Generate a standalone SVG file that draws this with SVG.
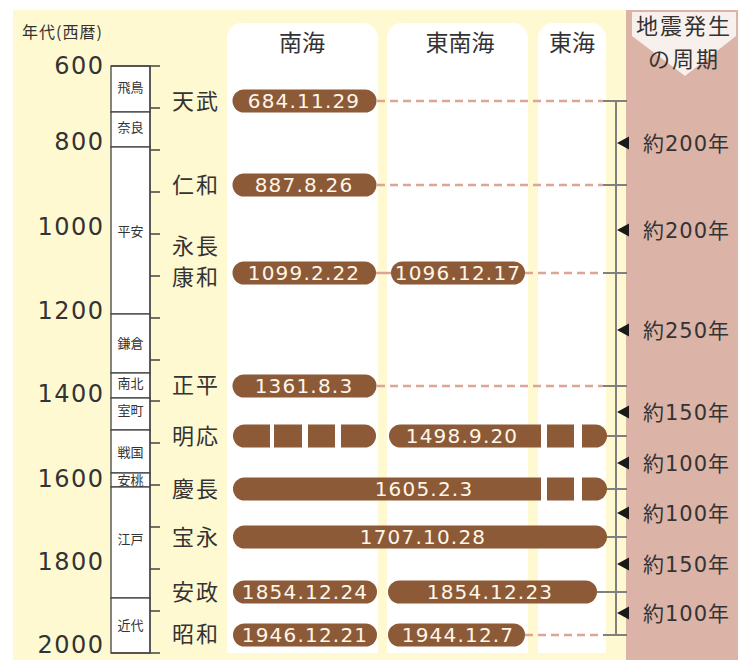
<svg xmlns="http://www.w3.org/2000/svg" width="738" height="660" viewBox="0 0 738 660">
<style>
.cjk{font-family:"Noto Sans CJK JP",sans-serif;fill:#333}
.num{font-family:"DejaVu Sans","Noto Sans CJK JP",sans-serif;fill:#333}
.year{font-size:24px;text-anchor:end;letter-spacing:1.5px}
.era{font-size:22px;letter-spacing:2px}
.per{font-size:13px;text-anchor:middle}
.col{font-size:23px;text-anchor:middle}
.pill{fill:#8C5A37}
.date{font-family:"DejaVu Sans","Noto Sans CJK JP",sans-serif;font-size:20px;fill:#FFF6EA;text-anchor:middle;letter-spacing:1.2px}
.cyc{font-size:21px;letter-spacing:1px}
.box{fill:#fff;stroke:#444;stroke-width:1.3}
.ax{stroke:#444;stroke-width:1.3;fill:none}
.dash{stroke:#DDA594;stroke-width:2.5;stroke-dasharray:8 5;fill:none}
.link{stroke:#DDA594;stroke-width:2.5;fill:none}
.tick{stroke:#808080;stroke-width:2;fill:none}
.colbg{fill:#fff}
.arr{fill:#1a1a1a}
</style>
<rect x="0" y="0" width="738" height="660" fill="#fff"/>
<rect x="13" y="10" width="613" height="650" fill="#FFF9D2"/>
<rect x="626" y="10" width="112" height="650" fill="#DBB3A7"/>
<polygon points="632,12 736,12 736,36 685,76 632,36" fill="#fff" opacity="0.8"/>

<!-- columns -->
<g id="col-nankai"><rect class="colbg" x="227" y="23" width="151" height="650" rx="15"/><text class="cjk col" x="302" y="51">南海</text></g>
<g id="col-tonankai"><rect class="colbg" x="387" y="23" width="141" height="650" rx="15"/><text class="cjk col" x="460" y="51">東南海</text></g>
<g id="col-tokai"><rect class="colbg" x="538" y="23" width="68" height="650" rx="15"/><text class="cjk col" x="572" y="51">東海</text></g>
<rect x="13" y="653" width="613" height="7" fill="#FFF9D2"/>

<text class="cjk" x="22" y="38" font-size="16" letter-spacing="1">年代(西暦)</text>
<g id="header-cycle">
<text class="cjk" x="684" y="34" font-size="22" text-anchor="middle" letter-spacing="2">地震発生</text>
<text class="cjk" x="684" y="67" font-size="22" text-anchor="middle" letter-spacing="2">の周期</text>
</g>

<!-- left timeline -->
<g id="years">
<text class="num year" x="104.5" y="74">600</text>
<text class="num year" x="104.5" y="150">800</text>
<text class="num year" x="104.5" y="235">1000</text>
<text class="num year" x="104.5" y="319">1200</text>
<text class="num year" x="104.5" y="402">1400</text>
<text class="num year" x="104.5" y="487">1600</text>
<text class="num year" x="104.5" y="570">1800</text>
<text class="num year" x="104.5" y="653">2000</text>
</g>
<g id="periods">
<g id="p-asuka"><rect class="box" x="111" y="66" width="39" height="46"/><text class="cjk per" x="130.5" y="92">飛鳥</text></g>
<g id="p-nara"><rect class="box" x="111" y="112" width="39" height="35"/><text class="cjk per" x="130.5" y="132">奈良</text></g>
<g id="p-heian"><rect class="box" x="111" y="147" width="39" height="167"/><text class="cjk per" x="130.5" y="236">平安</text></g>
<g id="p-kamakura"><rect class="box" x="111" y="314" width="39" height="59"/><text class="cjk per" x="130.5" y="348">鎌倉</text></g>
<g id="p-nanboku"><rect class="box" x="111" y="373" width="39" height="25"/><text class="cjk per" x="130.5" y="388">南北</text></g>
<g id="p-muromachi"><rect class="box" x="111" y="398" width="39" height="32"/><text class="cjk per" x="130.5" y="415">室町</text></g>
<g id="p-sengoku"><rect class="box" x="111" y="430" width="39" height="43"/><text class="cjk per" x="130.5" y="457">戦国</text></g>
<g id="p-azuchi"><rect class="box" x="111" y="473" width="39" height="14"/><text class="cjk per" x="130.5" y="484.5" font-size="11">安桃</text></g>
<g id="p-edo"><rect class="box" x="111" y="487" width="39" height="111"/><text class="cjk per" x="130.5" y="544">江戸</text></g>
<g id="p-kindai"><rect class="box" x="111" y="598" width="39" height="55"/><text class="cjk per" x="130.5" y="630">近代</text></g>
</g>
<g id="left-axis">
<path class="ax" d="M111,66H160M111,653H160M150,66V653M150,108H160M150,150H160M150,192H160M150,234H160M150,276H160M150,318H160M150,360H160M150,401H160M150,443H160M150,485H160M150,527H160M150,569H160M150,611H160"/>
</g>

<!-- era names -->
<g id="eras">
<text class="cjk era" x="172" y="109">天武</text>
<text class="cjk era" x="172" y="193">仁和</text>
<text class="cjk era" x="172" y="254" font-size="21">永長</text>
<text class="cjk era" x="172" y="285" font-size="21">康和</text>
<text class="cjk era" x="172" y="393">正平</text>
<text class="cjk era" x="172" y="444">明応</text>
<text class="cjk era" x="172" y="497">慶長</text>
<text class="cjk era" x="172" y="545">宝永</text>
<text class="cjk era" x="172" y="600">安政</text>
<text class="cjk era" x="172" y="642">昭和</text>
</g>

<!-- connectors -->
<g id="connectors">
<path class="dash" d="M377,101H603M377,185H603M525,273H603M377,386H603M525,635H603"/>
<path class="link" d="M375,273H392"/>
<path class="tick" d="M603,101H627M603,185H627M603,273H627M603,386H627M606,436H627M606,489H627M606,537H627M597,592H627M603,635H627"/>
<path class="tick" d="M616,101V636" stroke-width="1.5"/>
</g>

<!-- events -->
<g id="ev-684"><rect class="pill" x="232.5" y="89.5" width="144" height="23" rx="11.5"/><text class="date" x="304" y="108.3">684.11.29</text></g>
<g id="ev-887"><rect class="pill" x="232.5" y="173.5" width="144" height="23" rx="11.5"/><text class="date" x="304" y="192.3">887.8.26</text></g>
<g id="ev-1099"><rect class="pill" x="232.5" y="261.5" width="143.5" height="23" rx="11.5"/><text class="date" x="304" y="280.3">1099.2.22</text></g>
<g id="ev-1096"><rect class="pill" x="391" y="261.5" width="134" height="23" rx="11.5"/><text class="date" x="458" y="280.3">1096.12.17</text></g>
<g id="ev-1361"><rect class="pill" x="232.5" y="374.5" width="144" height="23" rx="11.5"/><text class="date" x="304" y="393.3">1361.8.3</text></g>
<g id="ev-1498">
<path class="pill" d="M244.5,424.5H270V447.5H244.5A11.5,11.5 0 0 1 244.5,424.5Z"/>
<rect class="pill" x="274" y="424.5" width="28" height="23"/>
<rect class="pill" x="308" y="424.5" width="27" height="23"/>
<path class="pill" d="M341,424.5H364.5A11.5,11.5 0 0 1 364.5,447.5H341Z"/>
<path class="pill" d="M400.5,424.5H541V447.5H400.5A11.5,11.5 0 0 1 400.5,424.5Z"/>
<rect class="pill" x="547" y="424.5" width="27" height="23"/>
<path class="pill" d="M582,424.5H595.5A11.5,11.5 0 0 1 595.5,447.5H582Z"/>
<text class="date" x="462" y="443.3">1498.9.20</text>
</g>
<g id="ev-1605">
<path class="pill" d="M244.5,477.5H541V500.5H244.5A11.5,11.5 0 0 1 244.5,477.5Z"/>
<rect class="pill" x="547" y="477.5" width="27" height="23"/>
<path class="pill" d="M582,477.5H595.5A11.5,11.5 0 0 1 595.5,500.5H582Z"/>
<text class="date" x="424" y="496.3">1605.2.3</text>
</g>
<g id="ev-1707"><rect class="pill" x="233" y="525.5" width="374" height="23" rx="11.5"/><text class="date" x="423" y="544.3">1707.10.28</text></g>
<g id="ev-1854a"><rect class="pill" x="233" y="580.5" width="144" height="23" rx="11.5"/><text class="date" x="305" y="599.3">1854.12.24</text></g>
<g id="ev-1854b"><rect class="pill" x="388" y="580.5" width="209" height="23" rx="11.5"/><text class="date" x="490" y="599.3">1854.12.23</text></g>
<g id="ev-1946"><rect class="pill" x="233" y="623.5" width="144" height="23" rx="11.5"/><text class="date" x="305" y="642.3">1946.12.21</text></g>
<g id="ev-1944"><rect class="pill" x="388" y="623.5" width="137" height="23" rx="11.5"/><text class="date" x="458" y="642.3">1944.12.7</text></g>

<!-- cycles -->
<g id="cycles">
<g id="cy1"><polygon class="arr" points="617,143 629,136.5 629,149.5"/><text class="num cyc" x="643" y="151">約200年</text></g>
<g id="cy2"><polygon class="arr" points="617,230 629,223.5 629,236.5"/><text class="num cyc" x="643" y="238">約200年</text></g>
<g id="cy3"><polygon class="arr" points="617,330 629,323.5 629,336.5"/><text class="num cyc" x="643" y="338">約250年</text></g>
<g id="cy4"><polygon class="arr" points="617,412 629,405.5 629,418.5"/><text class="num cyc" x="643" y="420">約150年</text></g>
<g id="cy5"><polygon class="arr" points="617,463 629,456.5 629,469.5"/><text class="num cyc" x="643" y="471">約100年</text></g>
<g id="cy6"><polygon class="arr" points="617,513 629,506.5 629,519.5"/><text class="num cyc" x="643" y="521">約100年</text></g>
<g id="cy7"><polygon class="arr" points="617,564 629,557.5 629,570.5"/><text class="num cyc" x="643" y="572">約150年</text></g>
<g id="cy8"><polygon class="arr" points="617,613 629,606.5 629,619.5"/><text class="num cyc" x="643" y="621">約100年</text></g>
</g>
</svg>
